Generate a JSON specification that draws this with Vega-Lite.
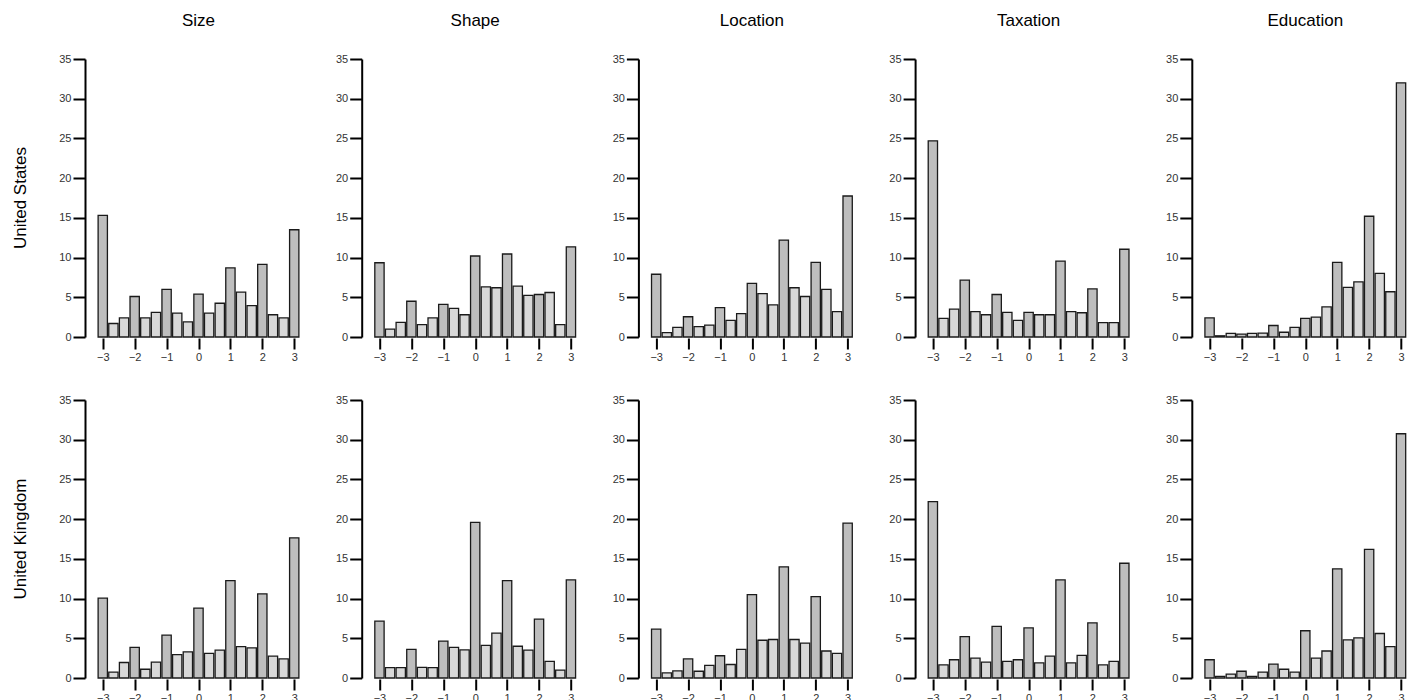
{
  "$schema": "https://vega.github.io/schema/vega-lite/v6.json",
  "background": "white",
  "padding": {"left": 12, "top": 12, "right": 5, "bottom": 5},
  "config": {
    "font": "Liberation Sans",
    "view": {"stroke": null},
    "axis": {"grid": false, "title": null, "labelFont": "Liberation Sans", "labelFontSize": 11, "labelColor": "#333333", "tickColor": "#000000", "domainColor": "#000000", "tickWidth": 2, "domainWidth": 2}
  },
  "data": {"values": [
    {"c":"United States","v":"Size","x":-3,"y":15.3},{"c":"United States","v":"Size","x":-2.6667,"y":1.7},{"c":"United States","v":"Size","x":-2.3333,"y":2.4},{"c":"United States","v":"Size","x":-2,"y":5.1},{"c":"United States","v":"Size","x":-1.6667,"y":2.4},{"c":"United States","v":"Size","x":-1.3333,"y":3.1},{"c":"United States","v":"Size","x":-1,"y":6.0},{"c":"United States","v":"Size","x":-0.6667,"y":3.0},{"c":"United States","v":"Size","x":-0.3333,"y":1.9},{"c":"United States","v":"Size","x":0,"y":5.4},{"c":"United States","v":"Size","x":0.3333,"y":3.0},{"c":"United States","v":"Size","x":0.6667,"y":4.25},{"c":"United States","v":"Size","x":1,"y":8.7},{"c":"United States","v":"Size","x":1.3333,"y":5.65},{"c":"United States","v":"Size","x":1.6667,"y":3.95},{"c":"United States","v":"Size","x":2,"y":9.15},{"c":"United States","v":"Size","x":2.3333,"y":2.8},{"c":"United States","v":"Size","x":2.6667,"y":2.4},{"c":"United States","v":"Size","x":3,"y":13.5},
    {"c":"United States","v":"Shape","x":-3,"y":9.35},{"c":"United States","v":"Shape","x":-2.6667,"y":1.0},{"c":"United States","v":"Shape","x":-2.3333,"y":1.85},{"c":"United States","v":"Shape","x":-2,"y":4.5},{"c":"United States","v":"Shape","x":-1.6667,"y":1.55},{"c":"United States","v":"Shape","x":-1.3333,"y":2.4},{"c":"United States","v":"Shape","x":-1,"y":4.1},{"c":"United States","v":"Shape","x":-0.6667,"y":3.6},{"c":"United States","v":"Shape","x":-0.3333,"y":2.8},{"c":"United States","v":"Shape","x":0,"y":10.2},{"c":"United States","v":"Shape","x":0.3333,"y":6.3},{"c":"United States","v":"Shape","x":0.6667,"y":6.2},{"c":"United States","v":"Shape","x":1,"y":10.45},{"c":"United States","v":"Shape","x":1.3333,"y":6.4},{"c":"United States","v":"Shape","x":1.6667,"y":5.25},{"c":"United States","v":"Shape","x":2,"y":5.35},{"c":"United States","v":"Shape","x":2.3333,"y":5.6},{"c":"United States","v":"Shape","x":2.6667,"y":1.55},{"c":"United States","v":"Shape","x":3,"y":11.35},
    {"c":"United States","v":"Location","x":-3,"y":7.9},{"c":"United States","v":"Location","x":-2.6667,"y":0.55},{"c":"United States","v":"Location","x":-2.3333,"y":1.2},{"c":"United States","v":"Location","x":-2,"y":2.55},{"c":"United States","v":"Location","x":-1.6667,"y":1.3},{"c":"United States","v":"Location","x":-1.3333,"y":1.5},{"c":"United States","v":"Location","x":-1,"y":3.7},{"c":"United States","v":"Location","x":-0.6667,"y":2.1},{"c":"United States","v":"Location","x":-0.3333,"y":2.95},{"c":"United States","v":"Location","x":0,"y":6.75},{"c":"United States","v":"Location","x":0.3333,"y":5.45},{"c":"United States","v":"Location","x":0.6667,"y":4.05},{"c":"United States","v":"Location","x":1,"y":12.2},{"c":"United States","v":"Location","x":1.3333,"y":6.2},{"c":"United States","v":"Location","x":1.6667,"y":5.1},{"c":"United States","v":"Location","x":2,"y":9.4},{"c":"United States","v":"Location","x":2.3333,"y":6.0},{"c":"United States","v":"Location","x":2.6667,"y":3.2},{"c":"United States","v":"Location","x":3,"y":17.75},
    {"c":"United States","v":"Taxation","x":-3,"y":24.7},{"c":"United States","v":"Taxation","x":-2.6667,"y":2.35},{"c":"United States","v":"Taxation","x":-2.3333,"y":3.5},{"c":"United States","v":"Taxation","x":-2,"y":7.15},{"c":"United States","v":"Taxation","x":-1.6667,"y":3.2},{"c":"United States","v":"Taxation","x":-1.3333,"y":2.8},{"c":"United States","v":"Taxation","x":-1,"y":5.35},{"c":"United States","v":"Taxation","x":-0.6667,"y":3.1},{"c":"United States","v":"Taxation","x":-0.3333,"y":2.1},{"c":"United States","v":"Taxation","x":0,"y":3.1},{"c":"United States","v":"Taxation","x":0.3333,"y":2.8},{"c":"United States","v":"Taxation","x":0.6667,"y":2.8},{"c":"United States","v":"Taxation","x":1,"y":9.55},{"c":"United States","v":"Taxation","x":1.3333,"y":3.2},{"c":"United States","v":"Taxation","x":1.6667,"y":3.05},{"c":"United States","v":"Taxation","x":2,"y":6.05},{"c":"United States","v":"Taxation","x":2.3333,"y":1.8},{"c":"United States","v":"Taxation","x":2.6667,"y":1.8},{"c":"United States","v":"Taxation","x":3,"y":11.05},
    {"c":"United States","v":"Education","x":-3,"y":2.4},{"c":"United States","v":"Education","x":-2.6667,"y":0.15},{"c":"United States","v":"Education","x":-2.3333,"y":0.45},{"c":"United States","v":"Education","x":-2,"y":0.35},{"c":"United States","v":"Education","x":-1.6667,"y":0.45},{"c":"United States","v":"Education","x":-1.3333,"y":0.5},{"c":"United States","v":"Education","x":-1,"y":1.45},{"c":"United States","v":"Education","x":-0.6667,"y":0.6},{"c":"United States","v":"Education","x":-0.3333,"y":1.2},{"c":"United States","v":"Education","x":0,"y":2.35},{"c":"United States","v":"Education","x":0.3333,"y":2.5},{"c":"United States","v":"Education","x":0.6667,"y":3.8},{"c":"United States","v":"Education","x":1,"y":9.4},{"c":"United States","v":"Education","x":1.3333,"y":6.25},{"c":"United States","v":"Education","x":1.6667,"y":6.95},{"c":"United States","v":"Education","x":2,"y":15.2},{"c":"United States","v":"Education","x":2.3333,"y":8.0},{"c":"United States","v":"Education","x":2.6667,"y":5.7},{"c":"United States","v":"Education","x":3,"y":32.0},
    {"c":"United Kingdom","v":"Size","x":-3,"y":10.05},{"c":"United Kingdom","v":"Size","x":-2.6667,"y":0.75},{"c":"United Kingdom","v":"Size","x":-2.3333,"y":1.95},{"c":"United Kingdom","v":"Size","x":-2,"y":3.85},{"c":"United Kingdom","v":"Size","x":-1.6667,"y":1.1},{"c":"United Kingdom","v":"Size","x":-1.3333,"y":2.0},{"c":"United Kingdom","v":"Size","x":-1,"y":5.4},{"c":"United Kingdom","v":"Size","x":-0.6667,"y":2.95},{"c":"United Kingdom","v":"Size","x":-0.3333,"y":3.3},{"c":"United Kingdom","v":"Size","x":0,"y":8.8},{"c":"United Kingdom","v":"Size","x":0.3333,"y":3.1},{"c":"United Kingdom","v":"Size","x":0.6667,"y":3.5},{"c":"United Kingdom","v":"Size","x":1,"y":12.25},{"c":"United Kingdom","v":"Size","x":1.3333,"y":3.95},{"c":"United Kingdom","v":"Size","x":1.6667,"y":3.8},{"c":"United Kingdom","v":"Size","x":2,"y":10.6},{"c":"United Kingdom","v":"Size","x":2.3333,"y":2.75},{"c":"United Kingdom","v":"Size","x":2.6667,"y":2.4},{"c":"United Kingdom","v":"Size","x":3,"y":17.65},
    {"c":"United Kingdom","v":"Shape","x":-3,"y":7.15},{"c":"United Kingdom","v":"Shape","x":-2.6667,"y":1.3},{"c":"United Kingdom","v":"Shape","x":-2.3333,"y":1.3},{"c":"United Kingdom","v":"Shape","x":-2,"y":3.6},{"c":"United Kingdom","v":"Shape","x":-1.6667,"y":1.35},{"c":"United Kingdom","v":"Shape","x":-1.3333,"y":1.3},{"c":"United Kingdom","v":"Shape","x":-1,"y":4.65},{"c":"United Kingdom","v":"Shape","x":-0.6667,"y":3.85},{"c":"United Kingdom","v":"Shape","x":-0.3333,"y":3.55},{"c":"United Kingdom","v":"Shape","x":0,"y":19.6},{"c":"United Kingdom","v":"Shape","x":0.3333,"y":4.1},{"c":"United Kingdom","v":"Shape","x":0.6667,"y":5.65},{"c":"United Kingdom","v":"Shape","x":1,"y":12.25},{"c":"United Kingdom","v":"Shape","x":1.3333,"y":4.0},{"c":"United Kingdom","v":"Shape","x":1.6667,"y":3.5},{"c":"United Kingdom","v":"Shape","x":2,"y":7.4},{"c":"United Kingdom","v":"Shape","x":2.3333,"y":2.1},{"c":"United Kingdom","v":"Shape","x":2.6667,"y":1.0},{"c":"United Kingdom","v":"Shape","x":3,"y":12.35},
    {"c":"United Kingdom","v":"Location","x":-3,"y":6.15},{"c":"United Kingdom","v":"Location","x":-2.6667,"y":0.65},{"c":"United Kingdom","v":"Location","x":-2.3333,"y":0.9},{"c":"United Kingdom","v":"Location","x":-2,"y":2.4},{"c":"United Kingdom","v":"Location","x":-1.6667,"y":0.85},{"c":"United Kingdom","v":"Location","x":-1.3333,"y":1.6},{"c":"United Kingdom","v":"Location","x":-1,"y":2.8},{"c":"United Kingdom","v":"Location","x":-0.6667,"y":1.7},{"c":"United Kingdom","v":"Location","x":-0.3333,"y":3.6},{"c":"United Kingdom","v":"Location","x":0,"y":10.5},{"c":"United Kingdom","v":"Location","x":0.3333,"y":4.75},{"c":"United Kingdom","v":"Location","x":0.6667,"y":4.85},{"c":"United Kingdom","v":"Location","x":1,"y":14.0},{"c":"United Kingdom","v":"Location","x":1.3333,"y":4.85},{"c":"United Kingdom","v":"Location","x":1.6667,"y":4.4},{"c":"United Kingdom","v":"Location","x":2,"y":10.25},{"c":"United Kingdom","v":"Location","x":2.3333,"y":3.4},{"c":"United Kingdom","v":"Location","x":2.6667,"y":3.1},{"c":"United Kingdom","v":"Location","x":3,"y":19.5},
    {"c":"United Kingdom","v":"Taxation","x":-3,"y":22.2},{"c":"United Kingdom","v":"Taxation","x":-2.6667,"y":1.65},{"c":"United Kingdom","v":"Taxation","x":-2.3333,"y":2.3},{"c":"United Kingdom","v":"Taxation","x":-2,"y":5.2},{"c":"United Kingdom","v":"Taxation","x":-1.6667,"y":2.5},{"c":"United Kingdom","v":"Taxation","x":-1.3333,"y":2.0},{"c":"United Kingdom","v":"Taxation","x":-1,"y":6.5},{"c":"United Kingdom","v":"Taxation","x":-0.6667,"y":2.1},{"c":"United Kingdom","v":"Taxation","x":-0.3333,"y":2.3},{"c":"United Kingdom","v":"Taxation","x":0,"y":6.3},{"c":"United Kingdom","v":"Taxation","x":0.3333,"y":1.9},{"c":"United Kingdom","v":"Taxation","x":0.6667,"y":2.75},{"c":"United Kingdom","v":"Taxation","x":1,"y":12.35},{"c":"United Kingdom","v":"Taxation","x":1.3333,"y":1.9},{"c":"United Kingdom","v":"Taxation","x":1.6667,"y":2.85},{"c":"United Kingdom","v":"Taxation","x":2,"y":6.95},{"c":"United Kingdom","v":"Taxation","x":2.3333,"y":1.65},{"c":"United Kingdom","v":"Taxation","x":2.6667,"y":2.1},{"c":"United Kingdom","v":"Taxation","x":3,"y":14.45},
    {"c":"United Kingdom","v":"Education","x":-3,"y":2.3},{"c":"United Kingdom","v":"Education","x":-2.6667,"y":0.2},{"c":"United Kingdom","v":"Education","x":-2.3333,"y":0.5},{"c":"United Kingdom","v":"Education","x":-2,"y":0.85},{"c":"United Kingdom","v":"Education","x":-1.6667,"y":0.2},{"c":"United Kingdom","v":"Education","x":-1.3333,"y":0.75},{"c":"United Kingdom","v":"Education","x":-1,"y":1.75},{"c":"United Kingdom","v":"Education","x":-0.6667,"y":1.1},{"c":"United Kingdom","v":"Education","x":-0.3333,"y":0.75},{"c":"United Kingdom","v":"Education","x":0,"y":5.95},{"c":"United Kingdom","v":"Education","x":0.3333,"y":2.5},{"c":"United Kingdom","v":"Education","x":0.6667,"y":3.4},{"c":"United Kingdom","v":"Education","x":1,"y":13.75},{"c":"United Kingdom","v":"Education","x":1.3333,"y":4.8},{"c":"United Kingdom","v":"Education","x":1.6667,"y":5.05},{"c":"United Kingdom","v":"Education","x":2,"y":16.2},{"c":"United Kingdom","v":"Education","x":2.3333,"y":5.6},{"c":"United Kingdom","v":"Education","x":2.6667,"y":3.95},{"c":"United Kingdom","v":"Education","x":3,"y":30.75}
  ]},
  "facet": {
    "row": {"field": "c", "type": "nominal", "sort": ["United States", "United Kingdom"], "title": null,
      "header": {"labelFont": "Liberation Sans", "labelFontSize": 17, "labelColor": "#000000", "labelAngle": -90, "labelOrient": "left", "labelPadding": 47}},
    "column": {"field": "v", "type": "nominal", "sort": ["Size", "Shape", "Location", "Taxation", "Education"], "title": null,
      "header": {"labelFont": "Liberation Sans", "labelFontSize": 17, "labelColor": "#000000", "labelOrient": "top", "labelPadding": 29}}
  },
  "spacing": {"row": 63, "column": 49.7},
  "bounds": "flush",
  "resolve": {"axis": {"x": "independent", "y": "independent"}},
  "spec": {
    "width": 227,
    "height": 278,
    "mark": {"type": "bar", "size": 9.3, "stroke": "#1a1a1a", "strokeWidth": 1.3},
    "encoding": {
      "x": {"field": "x", "type": "quantitative", "scale": {"domain": [-3.4, 3.4], "nice": false, "zero": false},
        "axis": {"values": [-3, -2, -1, 0, 1, 2, 3], "domain": false, "tickSize": 11, "offset": 1, "labelPadding": 2}},
      "y": {"field": "y", "type": "quantitative", "scale": {"domain": [0, 35], "nice": false},
        "axis": {"values": [0, 5, 10, 15, 20, 25, 30, 35], "tickSize": 12, "labelPadding": 2}},
      "fill": {"condition": {"test": "abs(datum.x - round(datum.x)) < 0.01", "value": "#bebebe"}, "value": "#d8d8d8"}
    }
  }
}
